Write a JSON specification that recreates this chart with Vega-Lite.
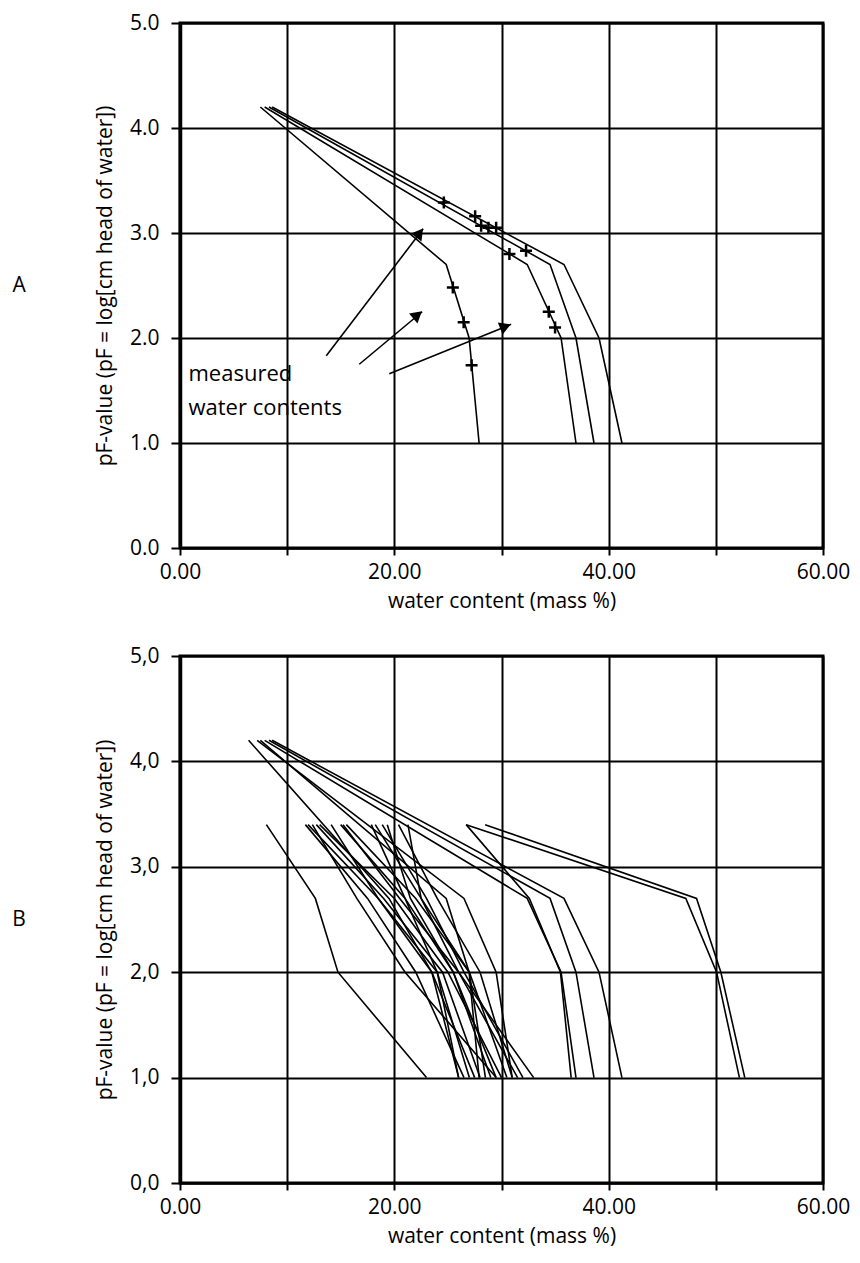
{
  "$schema": "https://vega.github.io/schema/vega-lite/v6.json",
  "background": "white",
  "padding": {"left": 10, "top": 10, "right": 20, "bottom": 5},
  "spacing": 30,
  "config": {
    "font": "Open Sans",
    "view": {"stroke": "black", "strokeWidth": 3},
    "axis": {
      "labelFontSize": 21, "titleFontSize": 21, "titleFontWeight": "normal",
      "labelColor": "black", "titleColor": "black", "domainColor": "black",
      "tickColor": "black", "gridColor": "black", "gridOpacity": 1, "grid": true,
      "gridWidth": 2, "tickWidth": 2, "labelFlush": false, "labelOverlap": false
    },
    "axisY": {"domainWidth": 3.5, "tickSize": 9, "labelPadding": 12, "titlePadding": 14},
    "axisX": {"domainWidth": 2, "tickSize": 7, "labelPadding": 6, "titlePadding": 8},
    "title": {"fontSize": 21, "fontWeight": "normal", "color": "black"}
  },
  "datasets": {
    "curvesA": [
      {"c": "a1", "k": 1, "w": 7.5, "pf": 4.2}, {"c": "a1", "k": 2, "w": 24.84, "pf": 2.7}, {"c": "a1", "k": 3, "w": 26.98, "pf": 2.0}, {"c": "a1", "k": 4, "w": 27.91, "pf": 1.0},
      {"c": "a2", "k": 1, "w": 7.9, "pf": 4.2}, {"c": "a2", "k": 2, "w": 32.4, "pf": 2.7}, {"c": "a2", "k": 3, "w": 35.56, "pf": 2.0}, {"c": "a2", "k": 4, "w": 36.95, "pf": 1.0},
      {"c": "a3", "k": 1, "w": 8.3, "pf": 4.2}, {"c": "a3", "k": 2, "w": 34.53, "pf": 2.7}, {"c": "a3", "k": 3, "w": 36.95, "pf": 2.0}, {"c": "a3", "k": 4, "w": 38.63, "pf": 1.0},
      {"c": "a4", "k": 1, "w": 8.6, "pf": 4.2}, {"c": "a4", "k": 2, "w": 35.83, "pf": 2.7}, {"c": "a4", "k": 3, "w": 39.1, "pf": 2.0}, {"c": "a4", "k": 4, "w": 41.24, "pf": 1.0}
    ],
    "measured": [
      {"w": 24.62, "pf": 3.29}, {"w": 27.54, "pf": 3.16}, {"w": 28.1, "pf": 3.07}, {"w": 28.78, "pf": 3.05},
      {"w": 29.5, "pf": 3.05}, {"w": 30.74, "pf": 2.8}, {"w": 32.29, "pf": 2.83}, {"w": 34.41, "pf": 2.25},
      {"w": 35.0, "pf": 2.1}, {"w": 25.46, "pf": 2.48}, {"w": 26.47, "pf": 2.15}, {"w": 27.21, "pf": 1.74}
    ],
    "arrows": [
      {"a": 1, "w": 13.65, "pf": 1.83, "w2": 22.69, "pf2": 3.04, "hw": 22.36, "hp": 3.0},
      {"a": 2, "w": 16.73, "pf": 1.75, "w2": 22.6, "pf2": 2.25, "hw": 22.17, "hp": 2.22},
      {"a": 3, "w": 19.53, "pf": 1.66, "w2": 30.9, "pf2": 2.13, "hw": 30.37, "hp": 2.11}
    ],
    "labels": [
      {"t": "measured", "w": 0.79, "pf": 1.59},
      {"t": "water contents", "w": 0.79, "pf": 1.27}
    ],
    "curvesB": [
      {"c": "a1", "k": 1, "w": 7.5, "pf": 4.2}, {"c": "a1", "k": 2, "w": 24.84, "pf": 2.7}, {"c": "a1", "k": 3, "w": 26.98, "pf": 2.0}, {"c": "a1", "k": 4, "w": 27.91, "pf": 1.0},
      {"c": "a2", "k": 1, "w": 7.9, "pf": 4.2}, {"c": "a2", "k": 2, "w": 32.4, "pf": 2.7}, {"c": "a2", "k": 3, "w": 35.56, "pf": 2.0}, {"c": "a2", "k": 4, "w": 36.95, "pf": 1.0},
      {"c": "a3", "k": 1, "w": 8.3, "pf": 4.2}, {"c": "a3", "k": 2, "w": 34.53, "pf": 2.7}, {"c": "a3", "k": 3, "w": 36.95, "pf": 2.0}, {"c": "a3", "k": 4, "w": 38.63, "pf": 1.0},
      {"c": "a4", "k": 1, "w": 8.6, "pf": 4.2}, {"c": "a4", "k": 2, "w": 35.83, "pf": 2.7}, {"c": "a4", "k": 3, "w": 39.1, "pf": 2.0}, {"c": "a4", "k": 4, "w": 41.24, "pf": 1.0},
      {"c": "b5", "k": 1, "w": 6.4, "pf": 4.2}, {"c": "b5", "k": 2, "w": 19.5, "pf": 2.7}, {"c": "b5", "k": 3, "w": 23.5, "pf": 2.0}, {"c": "b5", "k": 4, "w": 26.0, "pf": 1.0},
      {"c": "b6", "k": 1, "w": 7.2, "pf": 4.2}, {"c": "b6", "k": 2, "w": 26.5, "pf": 2.7}, {"c": "b6", "k": 3, "w": 29.5, "pf": 2.0}, {"c": "b6", "k": 4, "w": 31.0, "pf": 1.0},
      {"c": "L", "k": 1, "w": 8.06, "pf": 3.4}, {"c": "L", "k": 2, "w": 12.63, "pf": 2.7}, {"c": "L", "k": 3, "w": 14.74, "pf": 2.0}, {"c": "L", "k": 4, "w": 23.0, "pf": 1.0},
      {"c": "s1", "k": 1, "w": 11.7, "pf": 3.4}, {"c": "s1", "k": 2, "w": 17.5, "pf": 2.7}, {"c": "s1", "k": 3, "w": 22.0, "pf": 2.0}, {"c": "s1", "k": 4, "w": 26.5, "pf": 1.0},
      {"c": "s2", "k": 1, "w": 11.95, "pf": 3.4}, {"c": "s2", "k": 2, "w": 18.5, "pf": 2.7}, {"c": "s2", "k": 3, "w": 23.5, "pf": 2.0}, {"c": "s2", "k": 4, "w": 27.5, "pf": 1.0},
      {"c": "s3", "k": 1, "w": 12.35, "pf": 3.4}, {"c": "s3", "k": 2, "w": 16.5, "pf": 2.7}, {"c": "s3", "k": 3, "w": 21.0, "pf": 2.0}, {"c": "s3", "k": 4, "w": 29.5, "pf": 1.0},
      {"c": "s4", "k": 1, "w": 12.72, "pf": 3.4}, {"c": "s4", "k": 2, "w": 19.0, "pf": 2.7}, {"c": "s4", "k": 3, "w": 24.5, "pf": 2.0}, {"c": "s4", "k": 4, "w": 28.0, "pf": 1.0},
      {"c": "s5", "k": 1, "w": 13.03, "pf": 3.4}, {"c": "s5", "k": 2, "w": 20.0, "pf": 2.7}, {"c": "s5", "k": 3, "w": 25.0, "pf": 2.0}, {"c": "s5", "k": 4, "w": 30.0, "pf": 1.0},
      {"c": "s6", "k": 1, "w": 14.1, "pf": 3.4}, {"c": "s6", "k": 2, "w": 18.5, "pf": 2.7}, {"c": "s6", "k": 3, "w": 24.0, "pf": 2.0}, {"c": "s6", "k": 4, "w": 27.0, "pf": 1.0},
      {"c": "s7", "k": 1, "w": 14.99, "pf": 3.4}, {"c": "s7", "k": 2, "w": 21.0, "pf": 2.7}, {"c": "s7", "k": 3, "w": 25.5, "pf": 2.0}, {"c": "s7", "k": 4, "w": 29.0, "pf": 1.0},
      {"c": "s8", "k": 1, "w": 15.21, "pf": 3.4}, {"c": "s8", "k": 2, "w": 20.5, "pf": 2.7}, {"c": "s8", "k": 3, "w": 26.0, "pf": 2.0}, {"c": "s8", "k": 4, "w": 31.5, "pf": 1.0},
      {"c": "s9", "k": 1, "w": 15.52, "pf": 3.4}, {"c": "s9", "k": 2, "w": 22.0, "pf": 2.7}, {"c": "s9", "k": 3, "w": 27.0, "pf": 2.0}, {"c": "s9", "k": 4, "w": 28.5, "pf": 1.0},
      {"c": "s10", "k": 1, "w": 17.85, "pf": 3.4}, {"c": "s10", "k": 2, "w": 21.0, "pf": 2.7}, {"c": "s10", "k": 3, "w": 24.0, "pf": 2.0}, {"c": "s10", "k": 4, "w": 26.0, "pf": 1.0},
      {"c": "s11", "k": 1, "w": 18.22, "pf": 3.4}, {"c": "s11", "k": 2, "w": 22.5, "pf": 2.7}, {"c": "s11", "k": 3, "w": 27.0, "pf": 2.0}, {"c": "s11", "k": 4, "w": 30.5, "pf": 1.0},
      {"c": "s12", "k": 1, "w": 18.87, "pf": 3.4}, {"c": "s12", "k": 2, "w": 23.0, "pf": 2.7}, {"c": "s12", "k": 3, "w": 26.5, "pf": 2.0}, {"c": "s12", "k": 4, "w": 32.0, "pf": 1.0},
      {"c": "s13", "k": 1, "w": 19.34, "pf": 3.4}, {"c": "s13", "k": 2, "w": 21.5, "pf": 2.7}, {"c": "s13", "k": 3, "w": 25.5, "pf": 2.0}, {"c": "s13", "k": 4, "w": 29.5, "pf": 1.0},
      {"c": "s14", "k": 1, "w": 20.39, "pf": 3.4}, {"c": "s14", "k": 2, "w": 24.0, "pf": 2.7}, {"c": "s14", "k": 3, "w": 28.0, "pf": 2.0}, {"c": "s14", "k": 4, "w": 31.0, "pf": 1.0},
      {"c": "s15", "k": 1, "w": 21.27, "pf": 3.4}, {"c": "s15", "k": 2, "w": 22.5, "pf": 2.7}, {"c": "s15", "k": 3, "w": 26.0, "pf": 2.0}, {"c": "s15", "k": 4, "w": 33.0, "pf": 1.0},
      {"c": "S", "k": 1, "w": 26.7, "pf": 3.4}, {"c": "S", "k": 2, "w": 32.6, "pf": 2.7}, {"c": "S", "k": 3, "w": 35.5, "pf": 2.0}, {"c": "S", "k": 4, "w": 36.5, "pf": 1.0},
      {"c": "R1", "k": 1, "w": 26.7, "pf": 3.4}, {"c": "R1", "k": 2, "w": 47.2, "pf": 2.7}, {"c": "R1", "k": 3, "w": 50.07, "pf": 2.0}, {"c": "R1", "k": 4, "w": 52.2, "pf": 1.0},
      {"c": "R2", "k": 1, "w": 28.47, "pf": 3.4}, {"c": "R2", "k": 2, "w": 48.2, "pf": 2.7}, {"c": "R2", "k": 3, "w": 50.47, "pf": 2.0}, {"c": "R2", "k": 4, "w": 52.7, "pf": 1.0}
    ]
  },
  "vconcat": [
    {
      "width": 643, "height": 525,
      "title": {"text": "A", "orient": "left", "angle": 0, "anchor": "middle", "align": "center", "baseline": "middle", "offset": 62},
      "layer": [
        {
          "data": {"name": "curvesA"},
          "mark": {"type": "line", "color": "black", "strokeWidth": 1.6},
          "encoding": {
            "x": {"field": "w", "type": "quantitative", "scale": {"domain": [0, 60], "nice": false},
              "axis": {"values": [0, 10, 20, 30, 40, 50, 60], "labelExpr": "datum.value % 20 === 0 ? format(datum.value, '.2f') : ''", "title": "water content (mass %)"}},
            "y": {"field": "pf", "type": "quantitative", "scale": {"domain": [0, 5], "nice": false},
              "axis": {"values": [0, 1, 2, 3, 4, 5], "format": ".1f", "title": "pF-value (pF = log[cm head of water])"}},
            "detail": {"field": "c"},
            "order": {"field": "k"}
          }
        },
        {
          "data": {"name": "measured"},
          "mark": {"type": "point", "shape": "M-1,0L1,0M0,-1L0,1", "filled": false, "color": "black", "strokeWidth": 2.5, "size": 144, "opacity": 1},
          "encoding": {"x": {"field": "w", "type": "quantitative"}, "y": {"field": "pf", "type": "quantitative"}}
        },
        {
          "data": {"name": "arrows"},
          "mark": {"type": "rule", "color": "black", "strokeWidth": 1.6},
          "encoding": {"x": {"field": "w", "type": "quantitative"}, "y": {"field": "pf", "type": "quantitative"}, "x2": {"field": "w2"}, "y2": {"field": "pf2"}}
        },
        {
          "data": {"name": "arrows"},
          "transform": [{"filter": "datum.a === 1"}],
          "mark": {"type": "point", "shape": "triangle-up", "filled": true, "color": "black", "size": 170, "angle": 37, "opacity": 1},
          "encoding": {"x": {"field": "hw", "type": "quantitative"}, "y": {"field": "hp", "type": "quantitative"}}
        },
        {
          "data": {"name": "arrows"},
          "transform": [{"filter": "datum.a === 2"}],
          "mark": {"type": "point", "shape": "triangle-up", "filled": true, "color": "black", "size": 170, "angle": 50, "opacity": 1},
          "encoding": {"x": {"field": "hw", "type": "quantitative"}, "y": {"field": "hp", "type": "quantitative"}}
        },
        {
          "data": {"name": "arrows"},
          "transform": [{"filter": "datum.a === 3"}],
          "mark": {"type": "point", "shape": "triangle-up", "filled": true, "color": "black", "size": 170, "angle": 68, "opacity": 1},
          "encoding": {"x": {"field": "hw", "type": "quantitative"}, "y": {"field": "hp", "type": "quantitative"}}
        },
        {
          "data": {"name": "labels"},
          "mark": {"type": "text", "align": "left", "baseline": "alphabetic", "fontSize": 22, "color": "black"},
          "encoding": {"x": {"field": "w", "type": "quantitative"}, "y": {"field": "pf", "type": "quantitative"}, "text": {"field": "t"}}
        }
      ]
    },
    {
      "width": 643, "height": 527,
      "title": {"text": "B", "orient": "left", "angle": 0, "anchor": "middle", "align": "center", "baseline": "middle", "offset": 62},
      "data": {"name": "curvesB"},
      "mark": {"type": "line", "color": "black", "strokeWidth": 1.6},
      "encoding": {
        "x": {"field": "w", "type": "quantitative", "scale": {"domain": [0, 60], "nice": false},
          "axis": {"values": [0, 10, 20, 30, 40, 50, 60], "labelExpr": "datum.value % 20 === 0 ? format(datum.value, '.2f') : ''", "title": "water content (mass %)"}},
        "y": {"field": "pf", "type": "quantitative", "scale": {"domain": [0, 5], "nice": false},
          "axis": {"values": [0, 1, 2, 3, 4, 5], "labelExpr": "replace(format(datum.value, '.1f'), '.', ',')", "title": "pF-value (pF = log[cm head of water])"}},
        "detail": {"field": "c"},
        "order": {"field": "k"}
      }
    }
  ]
}
